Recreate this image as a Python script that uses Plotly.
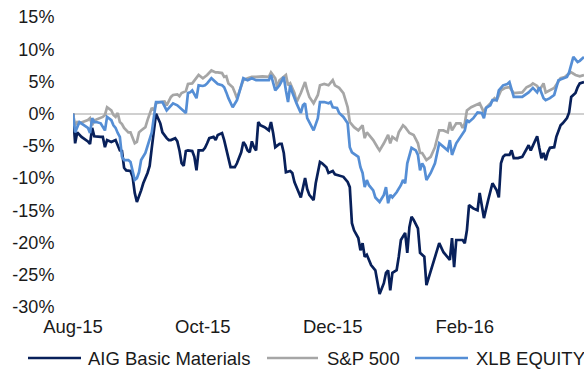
import pandas as pd
import plotly.graph_objects as go

# Cumulative returns (%) since 1 Aug 2015; x values are days after that date
base_date = pd.Timestamp("2015-08-01")

aig_day = [0, 1, 2, 4, 7, 8, 9, 10, 13, 14, 15, 16, 18, 20, 22, 23, 24, 25, 27, 28,
           29, 30, 32, 33, 35, 36, 37, 38, 39, 41, 42, 44, 45, 46, 48, 49, 50, 51, 52, 53,
           54, 56, 57, 58, 59, 61, 62, 63, 64, 66, 67, 68, 70, 71, 72, 73, 74, 76, 77, 79,
           80, 81, 82, 83, 84, 85, 86, 87, 88, 90, 92, 93, 94, 95, 97, 98, 99, 100, 102, 103,
           104, 107, 109, 110, 111, 113, 114, 116, 117, 119, 120, 122, 123, 124, 127, 129, 130, 131, 132, 134,
           135, 136, 137, 138, 140, 142, 143, 144, 146, 147, 148, 149, 150, 152, 153, 154, 156, 157, 158, 159,
           160, 162, 163, 165, 166, 168, 170, 172, 174, 175, 177, 178, 179, 180, 183, 184, 185, 186, 188, 190,
           191, 193, 194, 195, 197, 199, 200, 201, 202, 203, 205, 206, 207, 209, 211, 214, 215, 216, 218, 219,
           220, 221, 222, 223, 224, 226, 227, 229, 230, 232, 233, 234, 236, 237, 238, 240]
aig_ret = [0.0, -4.6, -2.9, -3.6, -4.3, -4.7, -2.2, -3.5, -3.6, -3.6, -5.2, -4.1, -4.4, -4.1, -5.7, -5.8, -8.4, -8.8, -8.9, -9.8,
           -12.3, -13.7, -11.9, -10.8, -9.2, -8.1, -5.3, -2.2, 0.0, -1.5, -2.9, -3.8, -4.1, -4.1, -3.8, -4.3, -5.7, -7.7, -8.1, -5.8,
           -5.7, -5.8, -6.7, -8.8, -5.7, -5.7, -5.3, -4.6, -3.8, -3.6, -4.1, -3.3, -3.0, -4.1, -5.7, -6.9, -8.3, -8.3, -7.7, -6.0,
           -4.4, -4.9, -5.7, -6.0, -4.3, -5.2, -5.7, -1.3, -1.8, -2.1, -2.6, -1.3, -3.0, -5.2, -4.7, -4.7, -6.1, -9.1, -8.9, -9.2,
           -10.6, -13.0, -10.0, -11.7, -12.6, -13.4, -10.8, -7.5, -7.7, -8.3, -9.2, -8.9, -9.4, -9.5, -9.8, -10.6, -11.4, -17.0, -18.1, -19.3,
           -21.2, -20.1, -22.2, -21.9, -23.5, -24.3, -26.1, -28.0, -26.3, -24.7, -24.3, -27.4, -24.7, -24.3, -22.2, -19.6, -18.5, -21.6, -17.6, -16.0,
           -16.5, -17.8, -21.6, -22.2, -26.6, -24.3, -22.4, -20.1, -21.5, -21.9, -22.7, -19.3, -23.8, -19.6, -19.6, -20.1, -18.1, -14.2, -14.7, -15.0,
           -12.3, -16.2, -14.5, -13.4, -10.8, -11.9, -13.0, -7.7, -6.7, -6.4, -6.4, -5.7, -6.9, -6.9, -6.7, -4.9, -5.7, -4.9, -3.5, -5.3,
           -6.9, -6.1, -7.2, -6.0, -5.3, -5.2, -3.6, -1.8, -1.5, -0.7, 0.2, 2.6, 3.2, 4.1, 4.7, 4.9]

spx_day = [0, 1, 2, 3, 7, 8, 9, 10, 11, 13, 14, 15, 16, 18, 19, 20, 21, 22, 23, 24,
           26, 27, 29, 30, 31, 32, 34, 35, 36, 37, 38, 39, 41, 43, 44, 46, 47, 49, 50, 51,
           53, 54, 56, 57, 59, 61, 62, 63, 65, 67, 68, 70, 71, 72, 73, 75, 76, 77, 78, 80,
           82, 84, 86, 89, 92, 93, 95, 96, 97, 98, 100, 101, 102, 104, 105, 107, 109, 110, 111, 113,
           115, 116, 118, 120, 122, 123, 125, 127, 128, 129, 130, 132, 134, 136, 137, 138, 139, 141, 143, 144,
           146, 148, 149, 150, 152, 153, 155, 156, 158, 160, 162, 163, 164, 166, 168, 169, 170, 172, 174, 176,
           177, 178, 180, 182, 183, 184, 185, 187, 189, 191, 193, 194, 196, 198, 199, 201, 203, 205, 207, 209,
           211, 213, 215, 216, 218, 219, 221, 222, 224, 226, 229, 231, 232, 234, 236, 238, 240]
spx_ret = [0.0, -1.8, -1.3, -1.5, -1.0, -0.7, -1.8, -1.0, -0.9, -0.7, -0.5, -0.2, 1.0, 0.5, -0.2, -0.5, 0.1, -1.3, -1.6, -2.2,
           -2.9, -2.9, -4.6, -4.4, -2.9, -2.6, -2.1, -1.0, 0.1, 0.9, 0.5, 1.6, 1.8, 1.9, 1.3, 2.6, 2.9, 3.0, 2.7, 3.2,
           3.5, 4.6, 4.7, 5.2, 6.0, 5.5, 5.7, 6.0, 6.7, 6.4, 6.4, 6.3, 5.7, 5.8, 4.7, 4.1, 3.3, 2.4, 3.3, 5.2,
           5.5, 5.7, 5.7, 5.8, 5.7, 6.4, 5.5, 4.0, 5.2, 5.5, 6.0, 4.4, 4.7, 3.2, 1.8, 3.2, 4.9, 3.6, 2.6, 1.6,
           2.9, 4.4, 4.6, 4.4, 5.2, 4.4, 4.0, 3.2, 2.1, 1.0, -1.3, -2.1, -2.6, -1.8, -3.8, -2.9, -3.3, -4.1, -5.2, -5.7,
           -4.6, -3.3, -4.6, -3.6, -4.1, -2.9, -1.8, -2.1, -3.0, -3.3, -4.6, -6.1, -6.1, -7.2, -6.7, -6.0, -5.2, -2.6, -2.6, -2.9,
           -1.3, -2.6, -1.5, -1.5, -2.2, -1.5, 0.5, 1.0, 1.3, 1.6, 0.2, 0.9, 1.6, 2.4, 2.1, 3.6, 4.0, 4.1, 3.2, 3.2,
           3.3, 4.1, 4.4, 4.7, 4.3, 3.6, 4.7, 3.3, 3.6, 4.0, 5.5, 5.7, 6.0, 6.4, 6.0, 5.8, 6.0]

xlb_day = [0, 1, 3, 5, 7, 8, 9, 10, 11, 13, 15, 16, 18, 19, 20, 21, 22, 23, 24, 26,
           27, 29, 30, 31, 32, 34, 35, 37, 38, 39, 40, 42, 44, 46, 47, 49, 50, 52, 53, 54,
           55, 56, 58, 59, 61, 62, 63, 65, 67, 68, 70, 71, 72, 73, 75, 76, 77, 78, 80, 82,
           84, 86, 89, 92, 93, 95, 97, 99, 100, 101, 102, 103, 105, 107, 108, 109, 110, 113, 115, 116,
           118, 120, 121, 122, 124, 125, 127, 129, 130, 131, 134, 135, 136, 137, 138, 139, 141, 142, 144, 146,
           147, 148, 149, 150, 152, 154, 155, 156, 157, 159, 161, 162, 163, 164, 165, 166, 168, 170, 172, 174,
           176, 177, 178, 180, 182, 184, 185, 186, 188, 190, 192, 193, 194, 196, 197, 199, 200, 202, 204, 205,
           207, 209, 211, 214, 216, 218, 219, 221, 222, 224, 226, 228, 230, 232, 233, 235, 237, 238, 240]
xlb_ret = [0.0, -2.9, -1.3, -1.8, -2.2, -3.0, -0.7, -1.3, -1.3, -1.5, -2.6, -0.5, -1.0, -1.8, -2.2, -3.0, -3.6, -6.7, -7.2, -7.2,
           -7.5, -10.3, -10.0, -9.1, -7.2, -6.1, -4.9, -2.9, -0.5, 1.8, 1.8, 1.8, 0.5, 1.3, 1.6, 1.3, 1.0, 0.4, 0.1, 3.2,
           3.3, 3.6, 2.4, 4.4, 4.3, 4.4, 4.7, 5.5, 4.9, 4.6, 4.4, 4.1, 3.3, 2.4, 1.0, 1.6, 2.1, 3.2, 5.5, 5.2,
           5.5, 5.2, 5.2, 5.2, 6.0, 3.6, 4.4, 5.7, 3.6, 1.8, 4.4, 3.3, 1.6, 0.1, 1.3, 1.6, -0.7, -2.6, -0.7, 1.8,
           1.8, 1.6, 1.8, 1.0, 0.9, 0.1, -0.5, -1.5, -5.2, -6.0, -6.7, -8.3, -9.2, -11.4, -10.3, -11.1, -11.9, -13.0, -13.7, -12.6,
           -11.4, -13.9, -12.6, -13.0, -12.2, -11.1, -10.3, -10.8, -7.7, -5.3, -5.7, -6.4, -8.8, -7.7, -8.3, -10.3, -9.2, -7.7, -4.6, -5.2,
           -5.7, -4.1, -6.4, -4.6, -3.6, -2.6, -1.0, -1.3, -0.7, 0.2, 0.1, -0.7, 0.9, 1.3, 2.1, 2.1, 3.6, 4.4, 4.6, 4.9,
           2.6, 2.6, 2.6, 3.3, 4.0, 3.3, 4.1, 2.4, 2.1, 2.4, 2.9, 5.2, 5.5, 5.7, 6.4, 8.8, 8.0, 8.2, 8.8]

series_names = ["AIG Basic Materials", "S&P 500", "XLB EQUITY"]
series_colors = ["#08205A", "#A6A6A6", "#558ED5"]

tick_dates = ["2015-08-01", "2015-10-01", "2015-12-01", "2016-02-01"]
tick_labels = ["Aug-15", "Oct-15", "Dec-15", "Feb-16"]
y_ticks = [-30, -25, -20, -15, -10, -5, 0, 5, 10, 15]
y_labels = ["-30%", "-25%", "-20%", "-15%", "-10%", "-5%", "0%", "5%", "10%", "15%"]

# Page / plot-area geometry in pixels
W, H = 584, 372
M_L, M_R, M_T, M_B = 73, 0, 17, 65
PLOT_W, PLOT_H = W - M_L - M_R, H - M_T - M_B


def to_dates(days):
    return base_date + pd.to_timedelta(days, unit="D")


def px_x(px):
    return (px - M_L) / PLOT_W


def px_y(py):
    return (H - M_B - py) / PLOT_H


fig = go.Figure()
for name, color, days, ret in zip(series_names, series_colors,
                                  [aig_day, spx_day, xlb_day],
                                  [aig_ret, spx_ret, xlb_ret]):
    fig.add_trace(go.Scatter(x=to_dates(days), y=ret, mode="lines", name=name,
                             showlegend=False,
                             line=dict(color=color, width=2.7)))

font = dict(family="Liberation Sans, Arial, sans-serif", size=18, color="#1a1a1a")

# Legend row below the axis: a line swatch followed by the series name
legend_line_x = [(28, 81), (267, 318), (415, 468)]
legend_text_x = [86, 325, 474]
legend_y = 358
shapes, annotations = [], []
for name, color, (x0, x1), tx in zip(series_names, series_colors, legend_line_x, legend_text_x):
    shapes.append(dict(type="line", xref="paper", yref="paper",
                       x0=px_x(x0), x1=px_x(x1), y0=px_y(legend_y), y1=px_y(legend_y),
                       line=dict(color=color, width=2.7)))
    annotations.append(dict(text=name, xref="paper", yref="paper",
                            x=px_x(tx), y=px_y(legend_y), xanchor="left", yanchor="middle",
                            showarrow=False, font=dict(font, size=18.5)))

fig.update_layout(
    width=W, height=H,
    margin=dict(l=M_L, r=M_R, t=M_T, b=M_B, autoexpand=False),
    paper_bgcolor="white", plot_bgcolor="white",
    font=font,
    showlegend=False,
    shapes=shapes,
    annotations=annotations,
    xaxis=dict(type="date", range=[base_date, base_date + pd.Timedelta(days=240)],
               tickvals=tick_dates, ticktext=tick_labels, showgrid=False,
               showline=False, zeroline=False, ticks="outside", ticklen=3,
               tickcolor="rgba(0,0,0,0)", tickfont=dict(font, size=18.5)),
    yaxis=dict(range=[-30, 15], tickvals=y_ticks, ticktext=y_labels,
               showgrid=False, showline=False, zeroline=True,
               zerolinecolor="#D0D0D0", zerolinewidth=1.5,
               ticks="outside", ticklen=14, tickcolor="rgba(0,0,0,0)"),
)

fig.write_html("out.html")
